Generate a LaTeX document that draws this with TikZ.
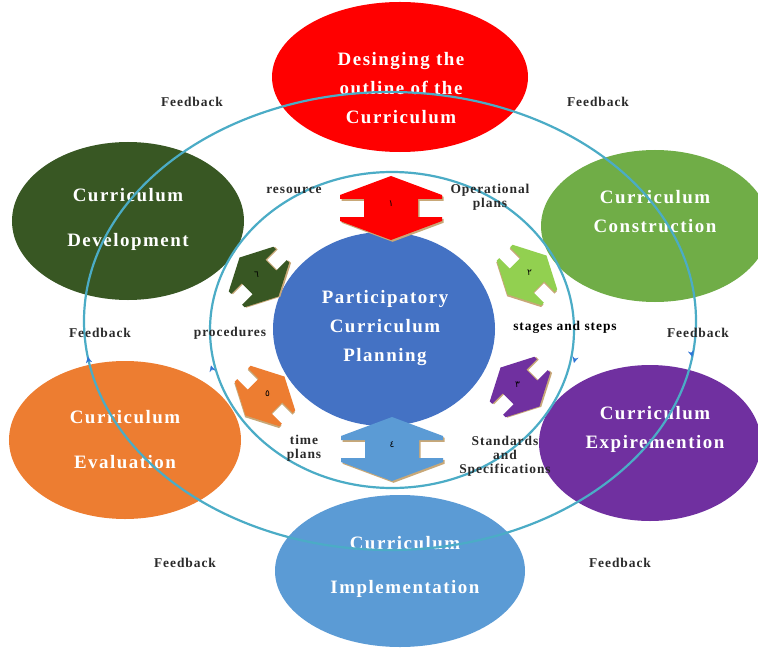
\documentclass[tikz,border=0pt]{standalone}
\usepackage{fontspec}
\setmainfont{Liberation Serif}
\newfontfamily\wideserif[LetterSpace=8]{Liberation Serif}
\newfontfamily\labelserif[LetterSpace=7]{Liberation Serif}
\newfontfamily\arabicdigits[Script=Arabic]{DejaVu Sans}
\usetikzlibrary{shapes.geometric,arrows.meta}

\definecolor{cRed}{HTML}{FF0000}
\definecolor{cLightGreen}{HTML}{70AD47}
\definecolor{cBrightGreen}{HTML}{92D050}
\definecolor{cDarkGreen}{HTML}{385723}
\definecolor{cOrange}{HTML}{ED7D31}
\definecolor{cPurple}{HTML}{7030A0}
\definecolor{cSky}{HTML}{5B9BD5}
\definecolor{cCore}{HTML}{4472C4}
\definecolor{cRing}{HTML}{4BACC6}
\definecolor{cMark}{HTML}{2F75D6}
\definecolor{cShadow}{HTML}{C8A878}
\definecolor{cLabel}{HTML}{2A2A2A}

\tikzset{
  stage/.style={ellipse, inner sep=0pt, draw=none},
  stagetext/.style={inner sep=0pt, text=white, align=center,
    font=\wideserif\bfseries\fontsize{19}{29}\selectfont},
  stagetextwide/.style={stagetext,
    font=\wideserif\bfseries\fontsize{19}{45}\selectfont},
  lbl/.style={inner sep=0pt, text=cLabel, align=center,
    font=\labelserif\bfseries\fontsize{13.5}{14}\selectfont},
  ring/.style={draw=cRing, line width=2.2bp},
  ringmark/.style={draw=cMark, line width=0.2bp,
    -{Stealth[length=6bp,width=6bp,color=cMark]}},
  digit/.style={inner sep=0pt, text=black, font=\arabicdigits\fontsize{9}{9}\selectfont},
  sidearrow/.style={xscale=0.62, yscale=0.86},
  pics/dblarrow/.style 2 args={code={
    % soft shadow under the double arrow
    \fill[cShadow, shift={(1.6,1.8)}]
      (0,-32) -- (51,-13) -- (51,-9) -- (27,-9) -- (27,9) -- (51,9) -- (51,13)
      -- (0,32) -- (-51,13) -- (-51,9) -- (-27,9) -- (-27,-9) -- (-51,-9) -- (-51,-13) -- cycle;
    \fill[#1]
      (0,-32) -- (51,-13) -- (51,-9) -- (27,-9) -- (27,9) -- (51,9) -- (51,13)
      -- (0,32) -- (-51,13) -- (-51,9) -- (-27,9) -- (-27,-9) -- (-51,-9) -- (-51,-13) -- cycle;
    \node[digit] (-num) at (0,-4) {#2};
  }}
}

\begin{document}
\begin{tikzpicture}[x=1bp,y=-1bp]
\useasboundingbox (0,0) rectangle (758,648);
\fill[white] (0,0) rectangle (758,648);

% the six stages around the core
\node[stage, fill=cRed, minimum width=256bp, minimum height=150bp] (design) at (400,77) {};
\node[stage, fill=cDarkGreen, minimum width=232bp, minimum height=158bp] (develop) at (128,221) {};
\node[stage, fill=cLightGreen, minimum width=228bp, minimum height=152bp] (construct) at (655,226) {};
\node[stage, fill=cOrange, minimum width=232bp, minimum height=158bp] (evaluate) at (125,440) {};
\node[stage, fill=cPurple, minimum width=222bp, minimum height=156bp] (experiment) at (650,443) {};
\node[stage, fill=cSky, minimum width=250bp, minimum height=152bp] (implement) at (400,571) {};
\node[stage, fill=cCore, minimum width=222bp, minimum height=194bp] (core) at (384,329) {};

\node[stagetext] (designT) at (401,88) {Desinging the\\outline of the\\Curriculum};
\node[stagetextwide] (developT) at (128,219.5) {Curriculum\\Development};
\node[stagetext] (constructT) at (655,211.5) {Curriculum\\Construction};
\node[stagetextwide] (evaluateT) at (125,439.5) {Curriculum\\Evaluation};
\node[stagetext] (experimentT) at (655,429.5) {Curriculum\\Expiremention};
\node[stagetextwide] (implementT) at (405,567) {Curriculum\\Implementation};
\node[stagetext] (coreT) at (385,328) {Participatory\\Curriculum\\Planning};

% feedback loops
\coordinate (ringC) at (390,321);
\coordinate (innerC) at (392,330);
\draw[ring] (ringC) ellipse [x radius=306, y radius=229];
\draw[ring] (innerC) ellipse [x radius=182, y radius=158];

% direction marks along the loops
\coordinate (mOL0) at (88.8,361.5);  \coordinate (mOL1) at (87.8,356.8);
\coordinate (mOR0) at (691.2,352.1); \coordinate (mOR1) at (692.2,356.8);
\coordinate (mIL0) at (212.3,370.3); \coordinate (mIL1) at (211.0,365.5);
\coordinate (mIR0) at (575.2,358.0); \coordinate (mIR1) at (574.0,362.8);
\draw[ringmark] (mOL0) -- (mOL1);
\draw[ringmark] (mOR0) -- (mOR1);
\draw[ringmark] (mIL0) -- (mIL1);
\draw[ringmark] (mIR0) -- (mIR1);

% numbered double arrows
\pic (a1) at (391,208) {dblarrow={cRed}{١}};
\pic[rotate=-45, sidearrow] (a2) at (527,275) {dblarrow={cBrightGreen}{٢}};
\pic[rotate=45, sidearrow] (a3) at (520,387) {dblarrow={cPurple}{٣}};
\pic (a4) at (392,449) {dblarrow={cSky}{٤}};
\pic[rotate=-45, sidearrow] (a5) at (265,396) {dblarrow={cOrange}{٥}};
\pic[rotate=45, sidearrow] (a6) at (259,277) {dblarrow={cDarkGreen}{٦}};

% labels
\node[lbl] (fb1) at (192,102) {Feedback};
\node[lbl] (fb2) at (598,102) {Feedback};
\node[lbl] (fb3) at (100,333) {Feedback};
\node[lbl] (fb4) at (698,333) {Feedback};
\node[lbl] (fb5) at (185,563) {Feedback};
\node[lbl] (fb6) at (620,563) {Feedback};
\node[lbl] (resource) at (294,190) {resource};
\node[lbl] (oplans) at (490,197.5) {Operational\\plans};
\node[lbl] (procedures) at (230,333) {procedures};
\node[lbl, text=black] (stages) at (565,327) {stages and steps};
\node[lbl] (tplans) at (304,448) {time\\plans};
\node[lbl] (standards) at (505,456.5) {Standards\\and\\Specifications};
\end{tikzpicture}
\end{document}
